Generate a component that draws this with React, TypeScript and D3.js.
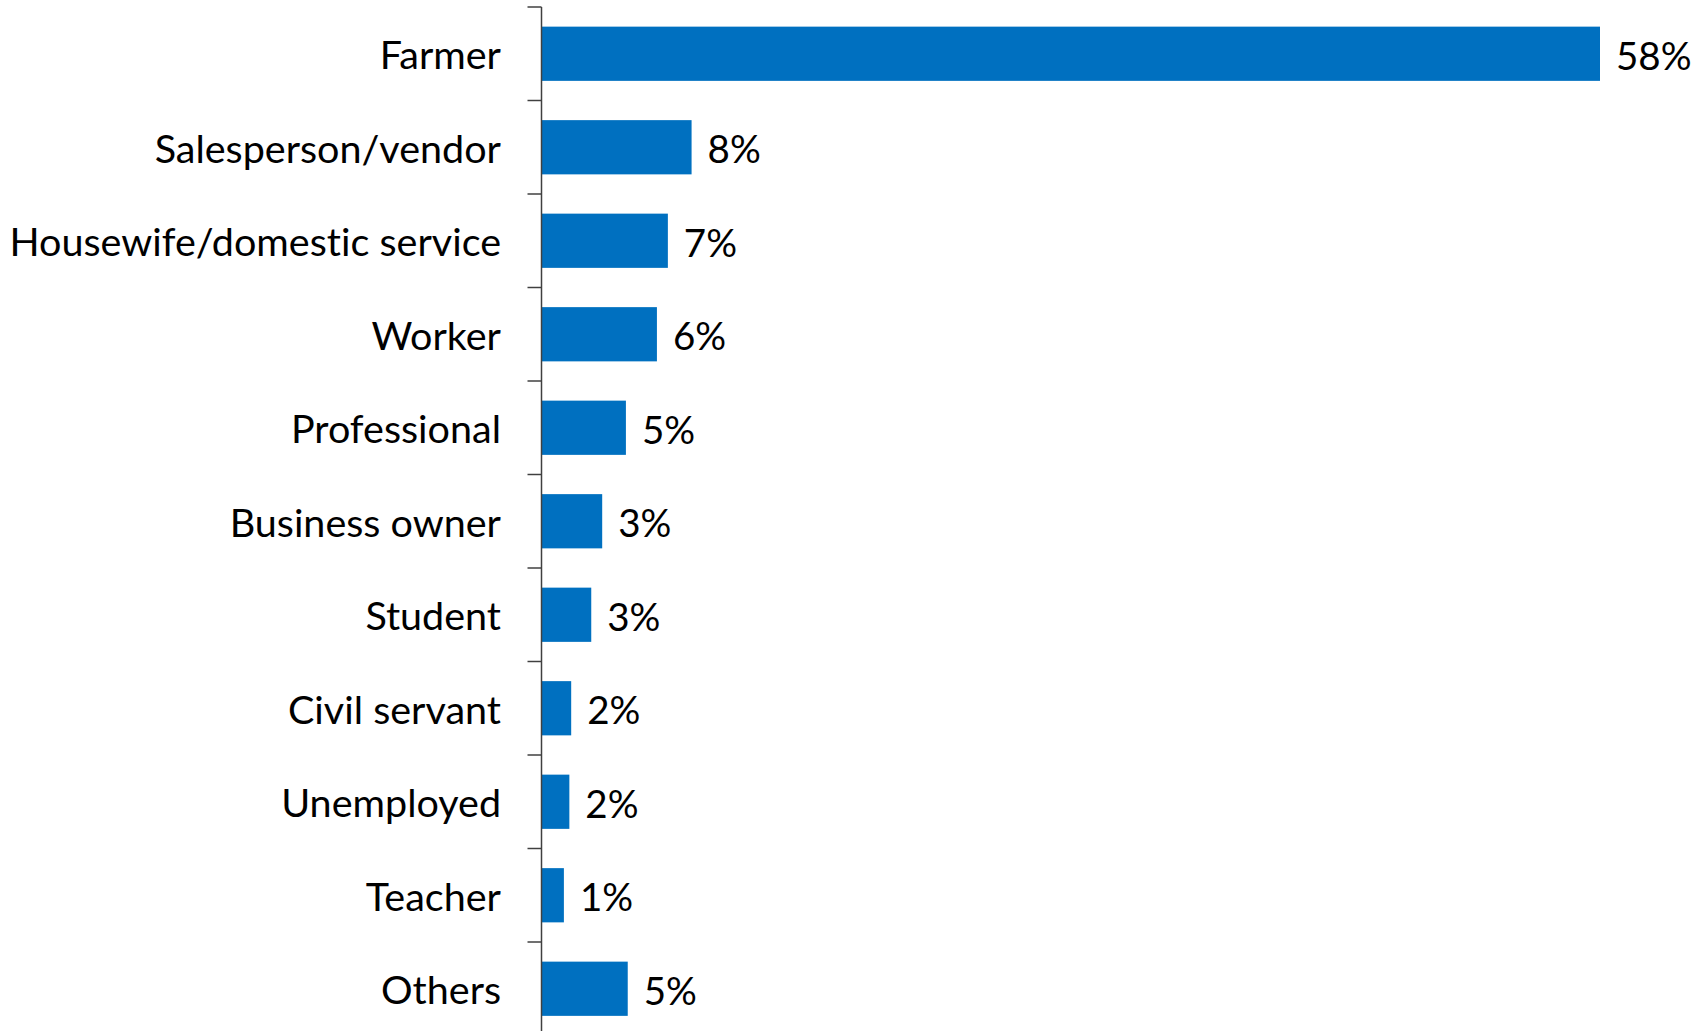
import React from "react";
import * as d3 from "d3";

const categories = [
  "Farmer",
  "Salesperson/vendor",
  "Housewife/domestic service",
  "Worker",
  "Professional",
  "Business owner",
  "Student",
  "Civil servant",
  "Unemployed",
  "Teacher",
  "Others",
];
const values = [58.0, 8.2, 6.9, 6.3, 4.6, 3.3, 2.7, 1.6, 1.5, 1.2, 4.7];

const W = 1706;
const H = 1031;
const AXIS_X = 541.5;
const TOP = 7;
const STEP = 93.5;
const FONT = "Lato, 'Open Sans', sans-serif";
const FS = 39.5;

export default function App() {
  const y = d3
    .scaleBand<string>()
    .domain(categories)
    .range([TOP, TOP + STEP * categories.length])
    .paddingInner(0.42)
    .paddingOuter(0.21);
  const x = d3.scaleLinear().domain([0, 58]).range([AXIS_X + 0.5, 1600]);
  const bounds = d3.range(categories.length + 1).map((i) => TOP + i * STEP);

  return (
    <svg
      width={W}
      height={H}
      style={{ position: "absolute", left: 0, top: 0, background: "#fff" }}
    >
      {categories.map((c, i) => (
        <g key={c}>
          <rect
            x={x(0)}
            y={y(c)!}
            width={x(values[i]) - x(0)}
            height={y.bandwidth()}
            fill="#0070C0"
          />
          <text
            x={501}
            y={y(c)! + y.bandwidth() / 2}
            textAnchor="end"
            dominantBaseline="central"
            fontFamily={FONT}
            fontSize={FS}
            fill="#000"
            style={{ fontVariantLigatures: "none" }}
          >
            {c}
          </text>
          <text
            x={x(values[i]) + 16}
            y={y(c)! + y.bandwidth() / 2 + 1}
            textAnchor="start"
            dominantBaseline="central"
            fontFamily={FONT}
            fontSize={38.5}
            fill="#000"
          >
            {Math.round(values[i]) + "%"}
          </text>
        </g>
      ))}
      <line
        x1={AXIS_X}
        x2={AXIS_X}
        y1={TOP}
        y2={TOP + STEP * categories.length}
        stroke="#404040"
        strokeWidth={1.5}
      />
      {bounds.map((b, i) => (
        <line
          key={i}
          x1={527.5}
          x2={AXIS_X}
          y1={b}
          y2={b}
          stroke="#404040"
          strokeWidth={1.5}
        />
      ))}
    </svg>
  );
}
